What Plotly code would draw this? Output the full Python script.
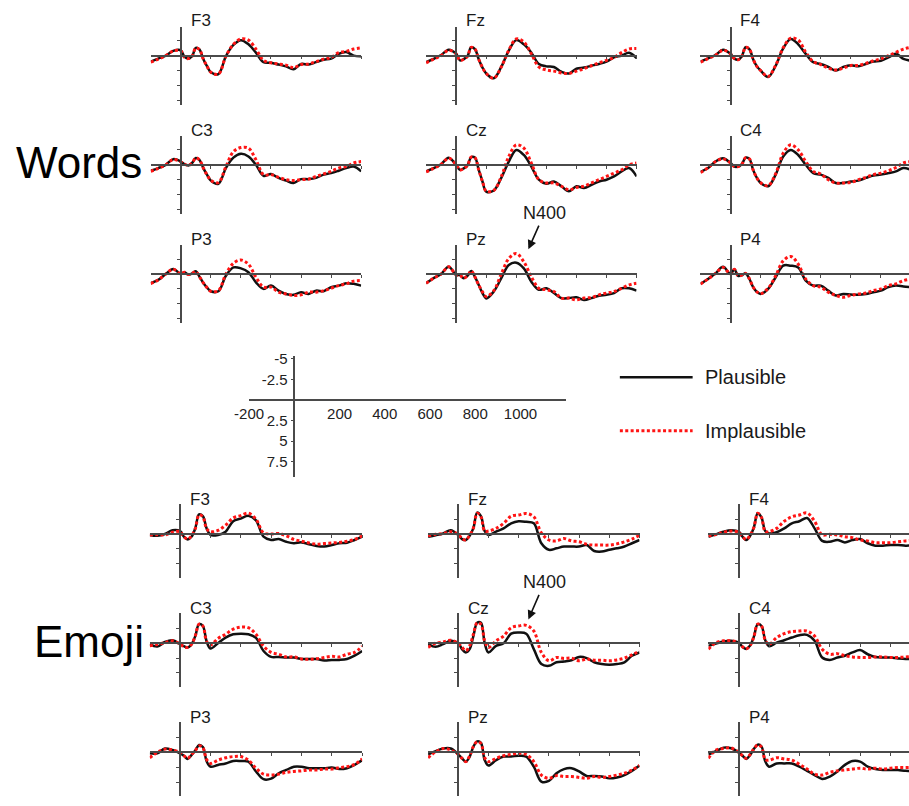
import plotly.graph_objects as go

# ---------------------------------------------------------------------------
# Grand-average ERPs (µV, negative plotted upwards), sampled on a shared grid
# ---------------------------------------------------------------------------
TIME_MS = [-200, -150, -100, -50, 0, 25, 50, 75, 100, 125, 150, 175, 200,
           250, 300, 350, 400, 450, 500, 550, 600, 650, 700, 750, 800,
           850, 900, 950, 1000, 1050, 1100, 1150, 1200]

BLOCKS = ["Words", "Emoji"]
ELECTRODE_ROWS = [["F3", "Fz", "F4"], ["C3", "Cz", "C4"], ["P3", "Pz", "P4"]]
CONDITIONS = ["Plausible", "Implausible"]

# --- Words ---
WORDS_F3_PLAUSIBLE = [1.0, 0.5, 0.0, -0.8, -0.9, 0.2, 0.5, 0.1, -1.3, -1.0, 0.6, 1.8, 2.8,
                      3.1, 0.1, -1.8, -2.6, -1.9, -0.5, 1.1, 1.2, 1.5, 1.8, 2.3, 1.4, 1.5, 1.1, 0.7, 0.5, -0.3, -0.6, 0.0, 0.1]
WORDS_F3_IMPLAUSIBLE = [1.1, 0.6, 0.0, -0.8, -0.8, 0.3, 0.5, 0.1, -1.3, -1.0, 0.6, 1.8, 2.8,
                        3.1, 0.1, -1.9, -2.8, -2.6, -1.1, 0.8, 1.2, 1.4, 1.6, 2.0, 1.5, 1.4, 1.0, 0.6, 0.3, -0.5, -0.7, -1.1, -1.3]
WORDS_FZ_PLAUSIBLE = [1.1, 0.55, -0.1, -1.0, -0.3, 0.8, 0.6, 0.1, -1.4, -1.1, 0.6, 2.0, 3.0,
                      3.8, 1.9, -0.85, -2.6, -1.9, -0.5, 1.4, 1.8, 1.9, 2.7, 3.0, 2.2, 2.0, 1.7, 1.4, 1.0, 0.3, 0.0, -0.5, 0.4]
WORDS_FZ_IMPLAUSIBLE = [1.2, 0.6, 0.0, -0.9, -0.3, 0.8, 0.6, 0.1, -1.4, -1.1, 0.6, 2.0, 3.0,
                        3.8, 1.9, -0.9, -2.8, -2.3, -0.3, 1.9, 2.4, 2.6, 2.9, 3.0, 2.6, 2.2, 1.7, 1.2, 0.8, 0.3, -0.5, -1.1, -1.2]
WORDS_F4_PLAUSIBLE = [1.0, 0.45, -0.1, -1.0, -0.3, 0.5, 0.7, 0.1, -1.4, -1.1, 0.6, 1.8, 2.5,
                      3.6, 1.7, -1.2, -2.8, -1.9, -0.3, 1.1, 1.4, 1.9, 2.5, 1.9, 1.6, 1.8, 1.4, 1.0, 0.85, 0.3, -0.3, 0.55, 0.85]
WORDS_F4_IMPLAUSIBLE = [1.1, 0.5, -0.1, -0.9, -0.3, 0.5, 0.7, 0.1, -1.4, -1.1, 0.6, 1.8, 2.5,
                        3.5, 1.6, -1.3, -2.95, -2.6, -0.55, 1.0, 1.5, 2.1, 2.4, 2.1, 1.65, 1.65, 1.3, 0.85, 0.55, 0.0, -0.55, -1.1, -1.4]
WORDS_C3_PLAUSIBLE = [1.0, 0.55, 0.0, -0.95, -0.55, -0.1, 0.1, -0.3, -1.15, -0.8, 0.55, 1.7, 2.65,
                      3.2, 0.55, -1.2, -1.85, -1.4, 0.0, 1.85, 1.55, 2.2, 2.65, 3.05, 2.4, 2.4, 2.2, 1.65, 1.4, 1.0, 0.55, 0.3, 1.1]
WORDS_C3_IMPLAUSIBLE = [1.1, 0.6, 0.0, -0.9, -0.5, -0.1, 0.1, -0.3, -1.15, -0.8, 0.55, 1.7, 2.6,
                        3.0, 0.3, -2.2, -2.9, -2.8, -0.85, 1.65, 1.65, 2.1, 2.5, 2.65, 2.5, 2.4, 1.95, 1.55, 1.1, 0.55, 0.3, -0.3, -0.55]
WORDS_CZ_PLAUSIBLE = [1.1, 0.55, -0.1, -1.2, 0.0, 0.85, 0.6, 0.1, -1.3, -1.2, 0.85, 2.8, 4.5,
                      4.3, 2.2, -0.55, -2.5, -1.65, 0.3, 2.5, 3.2, 2.8, 3.6, 4.45, 3.6, 3.9, 3.35, 2.8, 2.5, 1.95, 1.1, 0.55, 1.95]
WORDS_CZ_IMPLAUSIBLE = [1.2, 0.6, -0.1, -1.1, 0.0, 0.85, 0.6, 0.1, -1.3, -1.2, 0.85, 2.8, 4.4,
                        4.3, 2.0, -1.4, -3.35, -2.8, -0.3, 2.5, 3.05, 3.05, 3.6, 4.2, 3.8, 3.6, 3.05, 2.5, 1.95, 1.4, 0.85, 0.0, -0.3]
WORDS_C4_PLAUSIBLE = [1.2, 0.55, -0.55, -1.1, -0.3, 0.3, 0.3, -0.1, -1.2, -1.0, 0.85, 2.2, 3.05,
                      3.6, 1.65, -1.4, -2.5, -1.65, 0.0, 1.4, 1.65, 2.2, 3.05, 3.05, 2.8, 2.65, 2.2, 1.8, 1.65, 1.4, 1.1, 0.55, 0.85]
WORDS_C4_IMPLAUSIBLE = [1.3, 0.5, -0.55, -1.0, -0.3, 0.3, 0.3, -0.1, -1.2, -1.0, 0.85, 2.2, 3.0,
                        3.5, 1.5, -1.95, -3.35, -2.5, -0.55, 1.1, 1.55, 2.5, 3.05, 3.05, 2.95, 2.5, 2.1, 1.65, 1.4, 1.0, 0.45, -0.3, -0.55]
WORDS_P3_PLAUSIBLE = [1.55, 1.0, 0.0, -0.85, 0.0, -0.3, 0.1, -0.1, -0.45, 0.5, 1.5, 2.3, 2.9,
                      2.9, 0.3, -1.1, -0.95, -0.3, 1.4, 2.5, 1.95, 2.8, 3.35, 3.5, 3.05, 3.35, 2.8, 2.9, 2.2, 1.95, 1.55, 1.65, 1.95]
WORDS_P3_IMPLAUSIBLE = [1.6, 1.0, 0.0, -0.8, 0.0, -0.3, 0.1, -0.1, -0.4, 0.5, 1.5, 2.3, 2.9,
                        2.8, 0.0, -1.8, -2.35, -1.65, 0.55, 2.2, 2.2, 3.05, 3.35, 3.6, 3.5, 3.05, 3.05, 2.8, 2.4, 1.95, 1.65, 1.2, 1.1]
WORDS_PZ_PLAUSIBLE = [1.55, 0.7, 0.0, -1.2, 0.15, 0.2, 0.7, 0.3, -0.5, 0.5, 1.85, 3.2, 4.1,
                      2.95, 0.7, -1.5, -1.9, -0.95, 1.3, 2.65, 2.4, 3.2, 4.05, 4.05, 3.9, 4.35, 4.05, 3.65, 3.5, 3.2, 2.4, 2.4, 2.8]
WORDS_PZ_IMPLAUSIBLE = [1.55, 0.7, 0.0, -1.2, 0.15, 0.2, 0.7, 0.3, -0.5, 0.5, 1.85, 3.0, 3.8,
                        2.8, 0.0, -2.6, -3.45, -2.05, 0.45, 2.4, 2.65, 2.95, 4.05, 4.05, 4.35, 4.05, 3.95, 3.5, 3.2, 2.95, 2.4, 1.85, 1.55]
WORDS_P4_PLAUSIBLE = [1.65, 0.85, -0.1, -1.2, 0.0, -0.8, 0.3, 0.2, -0.1, 0.8, 2.2, 3.0, 3.35,
                      2.5, 0.55, -1.4, -1.4, -1.1, 1.1, 1.95, 1.95, 2.8, 3.6, 3.35, 3.45, 3.5, 3.35, 3.05, 2.8, 2.2, 1.95, 2.1, 2.2]
WORDS_P4_IMPLAUSIBLE = [1.7, 0.85, -0.1, -1.1, 0.0, -0.8, 0.3, 0.2, -0.1, 0.8, 2.2, 3.0, 3.3,
                        2.4, 0.3, -2.2, -2.95, -1.65, 0.85, 1.95, 2.2, 3.05, 3.6, 3.9, 3.6, 3.35, 3.2, 2.8, 2.5, 1.95, 1.65, 1.1, 0.85]

# --- Emoji ---
EMOJI_F3_PLAUSIBLE = [0.15, 0.3, 0.0, -0.65, -0.5, 0.45, 0.9, 0.45, -0.95, -3.3, -3.0, -0.95, 0.15,
                      0.15, -0.4, -2.15, -2.6, -3.05, -2.3, 0.45, 1.0, 0.85, 1.3, 1.55, 1.4, 1.7, 2.0, 2.1, 1.85, 1.55, 1.45, 1.0, 0.45]
EMOJI_F3_IMPLAUSIBLE = [0.15, 0.1, 0.15, -0.3, -0.4, 0.45, 0.85, 0.3, -0.9, -3.2, -2.9, -0.9, -0.4,
                        -0.6, -1.5, -2.7, -3.1, -3.5, -2.5, -0.2, 0.0, -0.1, 0.3, 0.9, 1.2, 1.5, 1.7, 1.6, 1.5, 1.4, 1.2, 0.9, 0.3]
EMOJI_FZ_PLAUSIBLE = [0.45, 0.2, -0.1, -0.65, 0.15, 0.85, 1.0, 0.3, -1.0, -3.6, -3.0, -0.5, 0.15,
                      -0.4, -0.95, -1.8, -2.15, -2.05, -1.8, 1.55, 2.65, 2.4, 2.1, 2.1, 2.1, 1.85, 2.85, 2.95, 2.65, 2.4, 2.1, 1.55, 1.0]
EMOJI_FZ_IMPLAUSIBLE = [0.3, 0.05, -0.1, -0.4, 0.05, 0.75, 1.0, 0.2, -1.0, -3.5, -2.9, -0.5, -0.5,
                        -0.95, -1.8, -3.0, -3.2, -3.45, -2.9, -0.2, 1.0, 1.15, 0.75, 1.15, 1.3, 1.7, 1.85, 1.85, 1.85, 1.65, 1.3, 0.85, 0.2]
EMOJI_F4_PLAUSIBLE = [0.45, 0.05, -0.4, -0.65, -0.4, 0.45, 1.0, 0.3, -1.1, -3.5, -2.8, -0.5, -0.1,
                      -0.3, -0.95, -1.8, -2.15, -2.7, -0.95, 1.15, 1.3, 1.0, 1.4, 1.0, 0.85, 1.55, 1.95, 1.95, 1.85, 1.85, 1.95, 1.9, 1.8]
EMOJI_F4_IMPLAUSIBLE = [0.3, 0.1, -0.3, -0.5, -0.3, 0.45, 0.9, 0.2, -1.1, -3.5, -2.8, -0.4, -0.4,
                        -0.95, -2.15, -2.9, -3.2, -3.55, -2.15, 0.15, 0.05, 0.15, 0.45, 0.6, 1.0, 1.15, 1.45, 1.45, 1.45, 1.3, 1.15, 1.05, 0.9]
EMOJI_C3_PLAUSIBLE = [0.15, 0.55, -0.2, -0.5, 0.15, 0.5, 0.7, 0.2, -1.2, -3.2, -2.9, -0.3, 0.9,
                      0.0, -0.95, -1.5, -1.6, -1.5, -0.9, 1.3, 2.3, 2.3, 2.4, 2.4, 2.65, 2.65, 2.65, 2.9, 2.8, 2.8, 2.65, 2.1, 1.3]
EMOJI_C3_IMPLAUSIBLE = [0.45, 0.2, -0.1, -0.4, 0.15, 0.6, 0.7, 0.2, -1.2, -3.2, -2.9, -0.3, 0.3,
                        -0.8, -1.5, -2.35, -2.7, -2.6, -1.5, 0.5, 1.55, 1.85, 2.3, 2.3, 2.65, 2.7, 2.6, 2.4, 2.2, 2.3, 1.85, 1.55, 0.5]
EMOJI_CZ_PLAUSIBLE = [0.15, 0.6, 0.15, -0.4, 0.0, 1.0, 1.55, 1.0, -1.2, -3.45, -3.45, 0.0, 1.55,
                      0.45, 0.0, -1.6, -1.8, -1.6, 1.0, 3.5, 3.8, 3.2, 3.05, 2.85, 2.3, 2.5, 3.2, 3.5, 3.6, 3.5, 3.2, 2.1, 1.55]
EMOJI_CZ_IMPLAUSIBLE = [0.7, 0.0, -0.2, -0.5, 0.05, 0.7, 1.25, 0.45, -1.5, -3.45, -3.2, -0.4, 0.7,
                        -0.4, -1.2, -2.6, -2.9, -3.0, -2.05, 1.55, 2.95, 2.4, 2.55, 2.5, 2.95, 2.65, 2.85, 2.85, 2.95, 2.8, 2.5, 1.95, 1.3]
EMOJI_C4_PLAUSIBLE = [0.45, 0.05, -0.3, -0.4, -0.1, 0.6, 0.95, 0.4, -1.1, -3.2, -2.9, -0.5, 0.5,
                      -0.1, -0.5, -0.95, -1.35, -1.4, -0.4, 2.4, 2.8, 2.4, 2.1, 1.55, 1.15, 1.85, 2.3, 2.4, 2.4, 2.55, 2.65, 2.6, 2.4]
EMOJI_C4_IMPLAUSIBLE = [1.0, -0.1, -0.4, -0.4, -0.1, 0.6, 0.95, 0.4, -1.1, -3.2, -2.9, -0.5, 0.2,
                        -0.95, -1.6, -1.95, -2.05, -2.05, -1.2, 1.0, 1.85, 1.75, 2.1, 2.3, 2.4, 2.4, 2.3, 2.3, 2.4, 2.4, 2.3, 2.2, 2.1]
EMOJI_P3_PLAUSIBLE = [0.15, 0.15, -0.65, -0.4, 0.15, 0.55, 1.1, 0.45, -0.3, -1.25, -0.9, 1.5, 2.4,
                      2.1, 1.85, 1.45, 1.45, 1.55, 3.2, 4.5, 4.4, 3.5, 2.95, 2.4, 2.4, 2.65, 2.65, 2.65, 2.55, 2.8, 2.65, 2.1, 1.3]
EMOJI_P3_IMPLAUSIBLE = [0.9, 0.0, -0.55, -0.4, 0.0, 0.55, 1.0, 0.35, -0.3, -1.1, -0.8, 1.2, 1.85,
                        1.3, 0.9, 0.7, 0.7, 1.3, 2.65, 3.65, 3.8, 3.65, 3.35, 3.2, 3.1, 2.95, 2.95, 2.8, 2.8, 2.55, 2.4, 2.0, 1.1]
EMOJI_PZ_PLAUSIBLE = [0.35, -0.2, -0.65, -0.65, 0.35, 1.0, 1.55, 0.75, -0.95, -1.85, -1.6, 1.3, 2.2,
                      1.3, 0.7, 0.7, 0.55, 0.7, 2.4, 4.9, 4.8, 3.5, 2.8, 2.65, 3.2, 3.95, 3.95, 4.05, 4.35, 4.2, 3.8, 3.1, 2.2]
EMOJI_PZ_IMPLAUSIBLE = [0.9, -0.1, -0.65, -0.4, 0.35, 1.0, 1.55, 0.6, -1.0, -1.8, -1.5, 0.9, 1.55,
                        1.0, 0.55, 0.35, 0.15, 0.35, 1.55, 3.8, 4.35, 3.9, 4.05, 4.05, 4.2, 4.35, 4.05, 4.2, 4.05, 3.8, 3.5, 2.95, 2.2]
EMOJI_P4_PLAUSIBLE = [0.35, -0.2, -0.8, -0.7, 0.0, 0.55, 1.1, 0.45, -0.6, -1.3, -1.0, 1.5, 2.4,
                      1.85, 1.85, 1.85, 2.4, 3.1, 3.8, 4.45, 4.05, 3.2, 2.1, 1.45, 1.55, 2.4, 2.8, 2.95, 2.95, 2.95, 3.1, 3.1, 3.1]
EMOJI_P4_IMPLAUSIBLE = [1.0, -0.4, -0.65, -0.75, 0.0, 0.55, 1.0, 0.35, -0.6, -1.25, -0.9, 1.2, 1.3,
                        0.9, 1.1, 1.3, 2.0, 2.8, 3.65, 3.8, 3.35, 3.1, 2.95, 2.8, 2.65, 2.8, 2.65, 2.8, 2.65, 2.55, 2.55, 2.5, 2.4]

WAVES = {
    ("Words", "F3"): (WORDS_F3_PLAUSIBLE, WORDS_F3_IMPLAUSIBLE),
    ("Words", "Fz"): (WORDS_FZ_PLAUSIBLE, WORDS_FZ_IMPLAUSIBLE),
    ("Words", "F4"): (WORDS_F4_PLAUSIBLE, WORDS_F4_IMPLAUSIBLE),
    ("Words", "C3"): (WORDS_C3_PLAUSIBLE, WORDS_C3_IMPLAUSIBLE),
    ("Words", "Cz"): (WORDS_CZ_PLAUSIBLE, WORDS_CZ_IMPLAUSIBLE),
    ("Words", "C4"): (WORDS_C4_PLAUSIBLE, WORDS_C4_IMPLAUSIBLE),
    ("Words", "P3"): (WORDS_P3_PLAUSIBLE, WORDS_P3_IMPLAUSIBLE),
    ("Words", "Pz"): (WORDS_PZ_PLAUSIBLE, WORDS_PZ_IMPLAUSIBLE),
    ("Words", "P4"): (WORDS_P4_PLAUSIBLE, WORDS_P4_IMPLAUSIBLE),
    ("Emoji", "F3"): (EMOJI_F3_PLAUSIBLE, EMOJI_F3_IMPLAUSIBLE),
    ("Emoji", "Fz"): (EMOJI_FZ_PLAUSIBLE, EMOJI_FZ_IMPLAUSIBLE),
    ("Emoji", "F4"): (EMOJI_F4_PLAUSIBLE, EMOJI_F4_IMPLAUSIBLE),
    ("Emoji", "C3"): (EMOJI_C3_PLAUSIBLE, EMOJI_C3_IMPLAUSIBLE),
    ("Emoji", "Cz"): (EMOJI_CZ_PLAUSIBLE, EMOJI_CZ_IMPLAUSIBLE),
    ("Emoji", "C4"): (EMOJI_C4_PLAUSIBLE, EMOJI_C4_IMPLAUSIBLE),
    ("Emoji", "P3"): (EMOJI_P3_PLAUSIBLE, EMOJI_P3_IMPLAUSIBLE),
    ("Emoji", "Pz"): (EMOJI_PZ_PLAUSIBLE, EMOJI_PZ_IMPLAUSIBLE),
    ("Emoji", "P4"): (EMOJI_P4_PLAUSIBLE, EMOJI_P4_IMPLAUSIBLE),
}

# Calibration axis
SCALE_X_TICKS = [-200, 200, 400, 600, 800, 1000]
SCALE_Y_TICKS = [-5, -2.5, 2.5, 5, 7.5]
PANEL_X_TICKS = [200, 400, 600, 800, 1000, 1200]
PANEL_Y_TICKS = [-2.5, 2.5, 5, 7.5]

# ---------------------------------------------------------------------------
# Page geometry and styling
# ---------------------------------------------------------------------------
W, H = 909, 806
FONT = "Liberation Sans, Arial, Helvetica, sans-serif"
AXIS_COLOR = "#4a4a4a"
LINE_STYLE = {
    "Plausible": dict(color="#111111", width=2.5),
    "Implausible": dict(color="#ff1414", width=3, dash="3px,2.4px"),
}

BLOCK_GEOM = {
    "Words": dict(cols=[(138, 352), (418, 632), (697, 911)], zeros=[50, 160, 270],
                  uv_top=-4.8, uv_bottom=8.3, title_x=131, title_y=158),
    "Emoji": dict(cols=[(137, 353), (420, 635), (705, 921)], zeros=[532, 642, 752],
                  uv_top=-5.1, uv_bottom=7.4, title_x=133, title_y=640),
}
PX_PER_UV = 6.0
T_START, T_END = -200, 1200


def fx(px):
    return px / W


def fy(py):
    return 1 - py / H


def axis_keys(n):
    return ("xaxis" if n == 1 else f"xaxis{n}", "yaxis" if n == 1 else f"yaxis{n}",
            "x" if n == 1 else f"x{n}", "y" if n == 1 else f"y{n}")


fig = go.Figure()
layout = {}
annotations = []
shapes = []
n = 0

for block in BLOCKS:
    g = BLOCK_GEOM[block]
    for r, row in enumerate(ELECTRODE_ROWS):
        zero = g["zeros"][r]
        for c, site in enumerate(row):
            n += 1
            xk, yk, xr, yr = axis_keys(n)
            x0, x1 = g["cols"][c]
            px_per_ms = (x1 - x0) / (T_END - T_START)
            t0_px = x0 - T_START * px_per_ms
            t_end = T_END
            if x1 > W:  # right-hand column runs off the page edge
                t_end = T_START + (W - x0) / px_per_ms
                x1 = W
            top = zero + g["uv_top"] * PX_PER_UV
            bot = zero + g["uv_bottom"] * PX_PER_UV

            layout[xk] = dict(domain=[fx(x0), fx(x1)], range=[T_START, t_end],
                              anchor="free", position=fy(zero),
                              showline=True, linecolor=AXIS_COLOR, linewidth=1.6,
                              ticks="outside", ticklen=3, tickwidth=1, tickcolor=AXIS_COLOR,
                              tickvals=PANEL_X_TICKS, showticklabels=False,
                              showgrid=False, zeroline=False, fixedrange=True)
            layout[yk] = dict(domain=[fy(bot), fy(top)], range=[g["uv_bottom"], g["uv_top"]],
                              anchor="free", position=fx(t0_px),
                              showline=True, linecolor=AXIS_COLOR, linewidth=1.6,
                              ticks="outside", ticklen=3, tickwidth=1, tickcolor=AXIS_COLOR,
                              tickvals=PANEL_Y_TICKS, showticklabels=False,
                              showgrid=False, zeroline=False, fixedrange=True)

            plaus, implaus = WAVES[(block, site)]
            for cond, values in zip(CONDITIONS, (plaus, implaus)):
                fig.add_trace(go.Scatter(
                    x=TIME_MS, y=values, xaxis=xr, yaxis=yr, mode="lines",
                    line=dict(shape="spline", smoothing=1.0, **LINE_STYLE[cond]),
                    name=cond, showlegend=False, hoverinfo="skip"))

            annotations.append(dict(text=site, x=fx(t0_px + 8), y=fy(zero - 35),
                                    xref="paper", yref="paper", xanchor="left", yanchor="middle",
                                    showarrow=False, font=dict(family=FONT, size=17, color="#1a1a1a")))

    annotations.append(dict(text=block, x=fx(g["title_x"]), y=fy(g["title_y"]),
                            xref="paper", yref="paper", xanchor="right", yanchor="middle",
                            showarrow=False, font=dict(family=FONT, size=44, color="#000000")))

# ---------------------------------------------------------------------------
# Calibration axis (ms / µV)
# ---------------------------------------------------------------------------
n += 1
xk, yk, xr, yr = axis_keys(n)
SC_X0, SC_X1, SC_ZERO, SC_PX_PER_UV = 238, 560, 397, 8.3
SC_TOP_UV, SC_BOTTOM_UV = -5.3, 9.3
sc_t0 = SC_X0 - T_START * (SC_X1 - SC_X0) / (T_END - T_START)
layout[xk] = dict(domain=[fx(SC_X0), fx(SC_X1)], range=[T_START, T_END],
                  anchor="free", position=fy(SC_ZERO),
                  showline=True, linecolor=AXIS_COLOR, linewidth=1.6,
                  ticks="", ticklen=0,
                  tickvals=SCALE_X_TICKS, ticktext=[str(v) for v in SCALE_X_TICKS],
                  tickfont=dict(family=FONT, size=15, color="#222222"),
                  showgrid=False, zeroline=False, fixedrange=True)
layout[yk] = dict(domain=[fy(SC_ZERO + SC_BOTTOM_UV * SC_PX_PER_UV), fy(SC_ZERO + SC_TOP_UV * SC_PX_PER_UV)],
                  range=[SC_BOTTOM_UV, SC_TOP_UV],
                  anchor="free", position=fx(sc_t0),
                  showline=True, linecolor=AXIS_COLOR, linewidth=1.6,
                  ticks="outside", ticklen=3, tickwidth=1, tickcolor=AXIS_COLOR,
                  tickvals=SCALE_Y_TICKS, ticktext=[f"{v:g}" for v in SCALE_Y_TICKS],
                  tickfont=dict(family=FONT, size=15, color="#222222"),
                  showgrid=False, zeroline=False, fixedrange=True)
fig.add_trace(go.Scatter(x=[None], y=[None], xaxis=xr, yaxis=yr, mode="lines",
                         showlegend=False, hoverinfo="skip"))

# ---------------------------------------------------------------------------
# Condition key
# ---------------------------------------------------------------------------
KEY_ROWS = [("Plausible", 374), ("Implausible", 428)]
for cond, ky in KEY_ROWS:
    st = LINE_STYLE[cond]
    shapes.append(dict(type="line", xref="paper", yref="paper",
                       x0=fx(615), x1=fx(689), y0=fy(ky), y1=fy(ky),
                       line=dict(color=st["color"], width=st["width"], dash=st.get("dash", "solid"))))
    annotations.append(dict(text=cond, x=fx(700), y=fy(ky), xref="paper", yref="paper",
                            xanchor="left", yanchor="middle", showarrow=False,
                            font=dict(family=FONT, size=20, color="#1a1a1a")))

# N400 call-outs (text centre -> arrow head)
N400_MARKS = [((538, 209), (522, 245)), ((538, 581), (522, 618))]
for (tx, ty), (hx, hy) in N400_MARKS:
    annotations.append(dict(text="N400", x=fx(hx), y=fy(hy), xref="paper", yref="paper",
                            ax=tx - hx, ay=ty - hy, axref="pixel", ayref="pixel",
                            showarrow=True, arrowhead=2, arrowsize=1.1, arrowwidth=1.6,
                            arrowcolor="#111111", standoff=0, startstandoff=1,
                            font=dict(family=FONT, size=18, color="#1a1a1a")))

fig.update_layout(**layout)
fig.update_layout(width=W, height=H, margin=dict(l=0, r=0, t=0, b=0),
                  paper_bgcolor="white", plot_bgcolor="rgba(0,0,0,0)",
                  showlegend=False, hovermode=False,
                  annotations=annotations, shapes=shapes,
                  font=dict(family=FONT))

fig.write_html("out.html", config={"displayModeBar": False})
